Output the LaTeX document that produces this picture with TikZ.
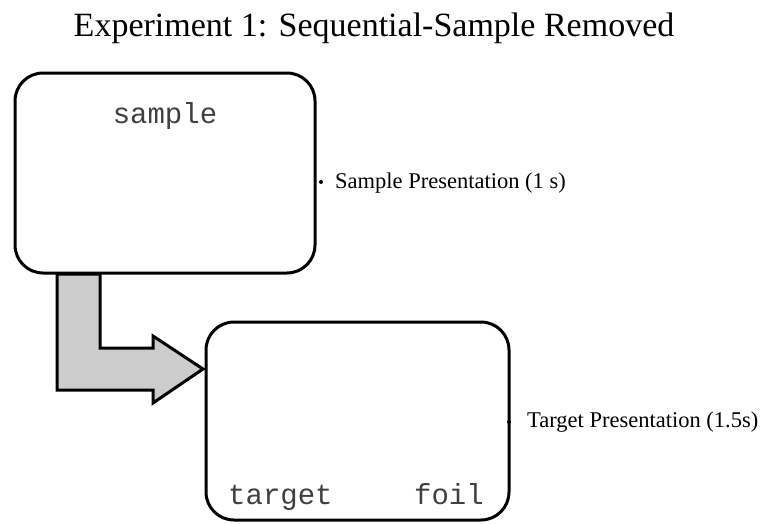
\documentclass[tikz,border=0pt]{standalone}
\usepackage{fontspec}
\setmainfont{Liberation Serif}
\newfontfamily\monofont{Liberation Mono}
\begin{document}
\begin{tikzpicture}[x=1pt,y=-1pt,
  screen/.style={draw=black,line width=3pt,rounded corners=28pt,fill=white},
  monotext/.style={font=\monofont\fontsize{29}{32}\selectfont,inner sep=0pt,text=black!75},
  timelabel/.style={font=\fontsize{22.5}{24}\selectfont,anchor=west,inner sep=0pt},
  bigarrow/.style={draw=black,line width=3pt,fill=black!20,line join=miter},
  dotmark/.style={circle,fill=black,inner sep=0pt,minimum size=4pt}]
\useasboundingbox (0,0) rectangle (763,523);
\node[font=\fontsize{34}{38}\selectfont,anchor=base] (title) at (374,36) {Experiment 1: Sequential-Sample Removed};
% first screen
\draw[screen] (15,73) rectangle (315,273);
\node[monotext,anchor=base] (sample) at (165,123) {sample};
% arrow
\draw[bigarrow] (57,274) -- (100,274) -- (100,348) -- (153,348) -- (153,336) -- (203,369) -- (153,403) -- (153,390) -- (57,390) -- cycle;
% second screen
\draw[screen] (206,322) rectangle (509,520);
\node[monotext,anchor=base west] (target) at (228,504) {target};
\node[monotext,anchor=base east] (foil) at (484,504) {foil};
% labels
\node[dotmark] (d1) at (321,182) {};
\node[timelabel] (l1) at (335,183) {Sample Presentation (1 s)};
\node[dotmark] (d2) at (509,422) {};
\node[timelabel] (l2) at (527,422) {Target Presentation (1.5s)};
\end{tikzpicture}
\end{document}
